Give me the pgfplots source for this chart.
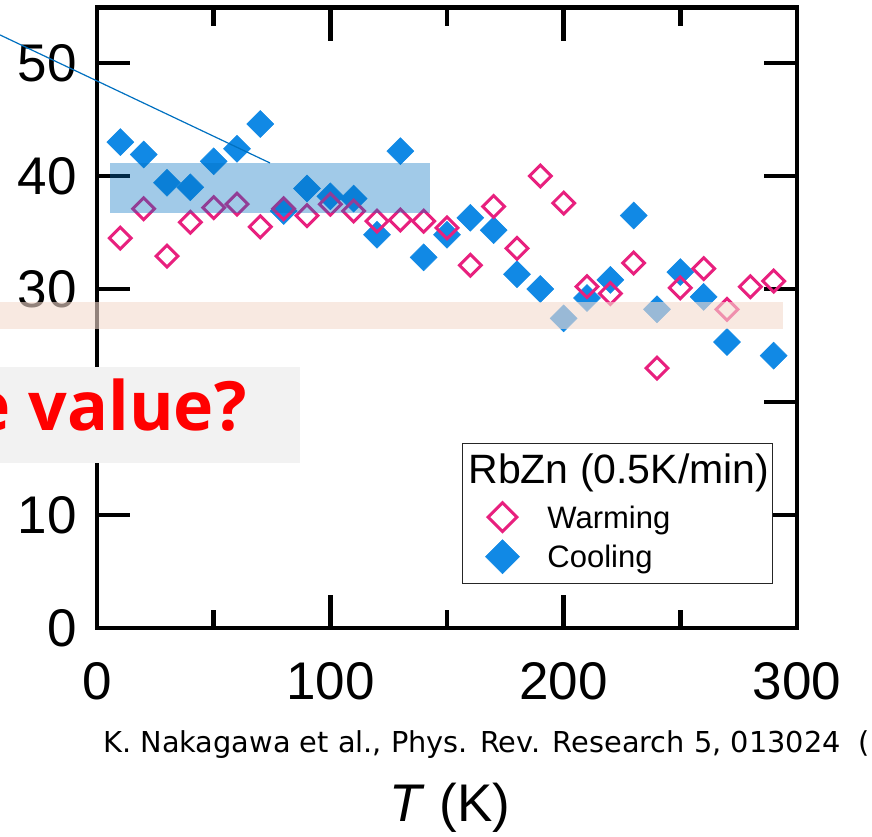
\documentclass[border=0pt]{standalone}
\usepackage{fontspec}
\setmainfont{Liberation Sans}
\newfontfamily\citefont{DejaVu Sans}
\newfontfamily\redfont{Open Sans}
\usepackage{pgfplots}
\pgfplotsset{compat=1.18}
\definecolor{cool}{RGB}{17,137,229}
\definecolor{warm}{RGB}{232,32,126}
\definecolor{ovblue}{RGB}{0,112,192}
\definecolor{peach}{RGB}{244,218,205}
\definecolor{boxgray}{RGB}{242,242,242}
\begin{document}
\begin{tikzpicture}
\useasboundingbox (-48.5pt,-104pt) rectangle (387.5pt,314pt);
\begin{axis}[
  scale only axis,
  width=350pt, height=310.2pt,
  xmin=0, xmax=300, ymin=0, ymax=54.9,
  xtick={0,100,200,300}, ytick={0,10,20,30,40,50},
  yticklabels={0,10,,30,40,50},
  minor x tick num=1,
  tick align=inside,
  major tick length=16.5pt, minor tick length=9pt,
  axis line style={line width=2.4pt},
  tick style={line width=2.2pt, black},
  /pgf/number format/assume math mode=true,
  ticklabel style={font=\fontsize{26.5}{28}\selectfont},
  xticklabel style={inner sep=0pt, yshift=-17pt},
  yticklabel style={inner sep=0pt, xshift=-10pt},
  xlabel={\textit{T} (K)},
  xlabel style={font=\fontsize{26.5}{28}\selectfont, at={(axis description cs:0.5043,-0.3122)}, anchor=base, inner sep=0pt},
  clip=false,
  legend style={at={(0.5214,0.2982)}, anchor=north west, draw=black!85, line width=0.5pt, fill=white,
    inner xsep=11.47pt, inner ysep=3pt, row sep=0pt, nodes={inner sep=0pt},
    cells={anchor=base west},
    /tikz/every odd column/.append style={column sep=13.96pt}},
  legend image code/.code={%
    \path[draw=none, fill=none] (0pt,0pt) -- (17.07pt,0pt);
    \draw[#1] plot coordinates {(8.535pt,5.65pt)};},
]
\addplot[only marks, mark=square*, mark size=4.75pt, forget plot,
  mark options={rotate=45, draw=cool, fill=cool, line width=0.3pt, line join=miter}]
  table {
T y
10 43.0
20 41.9
30 39.4
40 39.0
50 41.3
60 42.4
70 44.6
80 36.9
90 38.9
100 38.2
110 38.0
120 34.8
130 42.2
140 32.8
150 34.8
160 36.3
170 35.2
180 31.3
190 30.0
200 27.4
210 29.2
220 30.8
230 36.5
240 28.2
250 31.5
260 29.3
270 25.3
290 24.1
};
\addplot[only marks, mark=square, mark size=3.85pt, forget plot,
  mark options={rotate=45, draw=warm, line width=1.5pt, line join=miter}]
  table {
T y
10 34.5
20 37.1
30 32.9
40 35.9
50 37.2
60 37.5
70 35.5
80 37.1
90 36.5
100 37.5
110 36.9
120 36.0
130 36.1
140 36.0
150 35.4
160 32.1
170 37.3
180 33.6
190 40.0
200 37.6
210 30.2
220 29.6
230 32.3
240 23.0
250 30.1
260 31.8
270 28.2
280 30.2
290 30.7
};
\addlegendimage{empty legend}
\addlegendentry[text height=17pt, text depth=8.3pt]{\fontsize{20.5}{22}\selectfont\kern-39.5pt RbZn (0.5K/min)\kern-10pt}
\addlegendimage{only marks, mark=square, mark size=5.08pt, mark options={rotate=45, draw=warm, line width=1.5pt, line join=miter}}
\addlegendentry[text height=14.2pt, text depth=5.25pt]{\fontsize{15.5}{17}\selectfont Warming}
\addlegendimage{only marks, mark=square*, mark size=6pt, mark options={rotate=45, draw=cool, fill=cool, line width=0.3pt, line join=miter}}
\addlegendentry[text height=14.5pt, text depth=4.5pt]{\fontsize{15.5}{17}\selectfont Cooling}
\coordinate (B1) at (axis cs:5.57,36.73);
\coordinate (B2) at (axis cs:142.71,41.15);
\coordinate (P1) at (axis cs:-41.57,26.46);
\coordinate (P2) at (axis cs:294.0,28.85);
\coordinate (L1) at (axis cs:-41.57,52.48);
\coordinate (L2) at (axis cs:74.14,41.15);
\coordinate (G1) at (axis cs:-41.57,14.60);
\coordinate (G2) at (axis cs:87.0,23.10);
\coordinate (RT) at (axis cs:64.29,17.52);
\coordinate (CT) at (axis cs:2.57,-11.06);
\end{axis}
\fill[ovblue, opacity=0.37] (B1) rectangle (B2);
\draw[ovblue, line width=0.6pt] (L1) -- (L2);
\fill[peach, opacity=0.6] (P1) rectangle (P2);
\fill[boxgray] (G1) rectangle (G2);
\node[anchor=base east, inner sep=0pt, text=red, font=\redfont\bfseries\fontsize{34}{36}\selectfont] at (RT) {true value?};
\node[anchor=base west, inner sep=0pt, font=\citefont\fontsize{14.4}{16}\selectfont] at (CT) {K. Nakagawa et al., Phys. Rev. Research 5, 013024~~(};
\end{tikzpicture}
\end{document}
